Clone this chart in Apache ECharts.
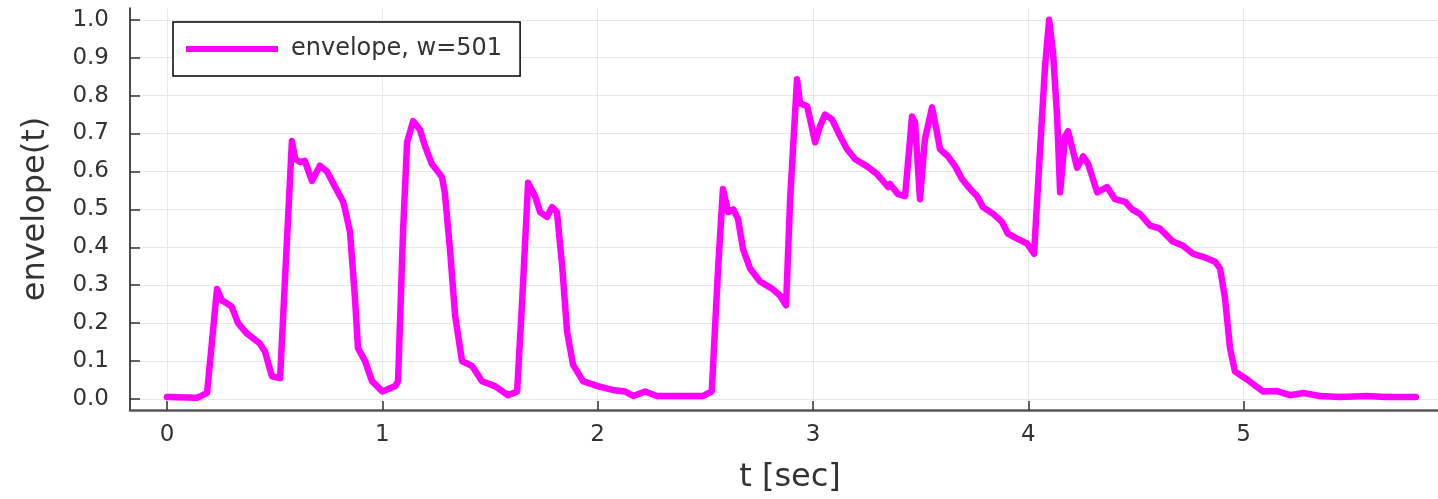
<!DOCTYPE html>
<html>
<head>
<meta charset="utf-8">
<title>envelope</title>
<script src="https://cdn.jsdelivr.net/npm/echarts@6/dist/echarts.min.js"></script>
<style>
  html, body { margin: 0; padding: 0; background: #ffffff; }
  #chart { width: 1438px; height: 499px; }
</style>
</head>
<body>
<div id="chart"></div>
<script>
// Time stamps (seconds) of the smoothed envelope
const tSec = [
  0.00, 0.14, 0.186, 0.232, 0.255, 0.279, 0.30, 0.33, 0.37, 0.43, 0.455, 0.487, 0.525,
  0.58, 0.595, 0.618, 0.64, 0.673, 0.71, 0.743, 0.78, 0.818, 0.827, 0.85, 0.873, 0.887,
  0.92, 0.952, 1.00, 1.06, 1.073, 1.096, 1.115, 1.143, 1.175, 1.198, 1.23, 1.277, 1.29,
  1.314, 1.338, 1.37, 1.417, 1.463, 1.523, 1.584, 1.626, 1.65, 1.677, 1.686, 1.709, 1.733,
  1.765, 1.788, 1.811, 1.835, 1.858, 1.886, 1.932, 2.00, 2.07, 2.127, 2.165, 2.22, 2.276,
  2.383, 2.49, 2.53, 2.56, 2.582, 2.606, 2.63, 2.652, 2.675, 2.708, 2.754, 2.81, 2.847,
  2.875, 2.894, 2.926, 2.94, 2.973, 2.987, 3.01, 3.033, 3.056, 3.089, 3.126, 3.158, 3.196,
  3.25, 3.298, 3.349, 3.358, 3.395, 3.428, 3.46, 3.474, 3.497, 3.52, 3.553, 3.576, 3.59,
  3.627, 3.66, 3.692, 3.73, 3.762, 3.79, 3.837, 3.878, 3.906, 3.948, 3.994, 4.027, 4.055,
  4.078, 4.097, 4.115, 4.134, 4.148, 4.171, 4.185, 4.227, 4.255, 4.278, 4.32, 4.366, 4.403,
  4.45, 4.482, 4.519, 4.566, 4.612, 4.672, 4.719, 4.765, 4.812, 4.868, 4.891, 4.914, 4.937,
  4.96, 4.993, 5.02, 5.05, 5.09, 5.155, 5.216, 5.277, 5.355, 5.448, 5.57, 5.66, 5.80
];

// Envelope amplitude at each time stamp
const envelope = [
  0.005, 0.003, 0.016, 0.29, 0.26, 0.252, 0.244, 0.20, 0.173, 0.147, 0.125, 0.06, 0.055,
  0.68, 0.633, 0.625, 0.628, 0.575, 0.615, 0.60, 0.56, 0.52, 0.50, 0.44, 0.265, 0.134,
  0.10, 0.047, 0.02, 0.034, 0.047, 0.44, 0.677, 0.733, 0.71, 0.667, 0.62, 0.585, 0.545,
  0.396, 0.22, 0.10, 0.087, 0.047, 0.034, 0.01, 0.02, 0.265, 0.57, 0.575, 0.535, 0.493,
  0.48, 0.506, 0.493, 0.352, 0.178, 0.09, 0.047, 0.034, 0.024, 0.02, 0.008, 0.02, 0.008,
  0.008, 0.008, 0.02, 0.35, 0.554, 0.493, 0.50, 0.475, 0.396, 0.344, 0.31, 0.291, 0.273,
  0.247, 0.527, 0.843, 0.78, 0.772, 0.737, 0.677, 0.72, 0.75, 0.737, 0.693, 0.659, 0.632,
  0.614, 0.593, 0.559, 0.567, 0.54, 0.535, 0.745, 0.73, 0.527, 0.685, 0.769, 0.703, 0.659,
  0.64, 0.614, 0.58, 0.554, 0.535, 0.506, 0.488, 0.467, 0.436, 0.423, 0.41, 0.383, 0.659,
  0.877, 1.00, 0.913, 0.745, 0.545, 0.693, 0.706, 0.61, 0.64, 0.62, 0.545, 0.559, 0.527,
  0.52, 0.50, 0.488, 0.457, 0.449, 0.415, 0.404, 0.383, 0.375, 0.362, 0.344, 0.265, 0.134,
  0.073, 0.06, 0.05, 0.037, 0.02, 0.021, 0.01, 0.016, 0.008, 0.005, 0.008, 0.005, 0.005
];

// Tick positions and their printed labels
const xTicks = [0, 1, 2, 3, 4, 5];
const xTickLabels = ['0', '1', '2', '3', '4', '5'];
const yTicks = [0.0, 0.1, 0.2, 0.3, 0.4, 0.5, 0.6, 0.7, 0.8, 0.9, 1.0];
const yTickLabels = ['0.0', '0.1', '0.2', '0.3', '0.4', '0.5', '0.6', '0.7', '0.8', '0.9', '1.0'];

const seriesName = 'envelope, w=501';
const FONT = 'DejaVu Sans';

const points = tSec.map((t, i) => [t, envelope[i]]);

const chart = echarts.init(document.getElementById('chart'), null, { renderer: 'canvas' });

chart.setOption({
  animation: false,
  backgroundColor: '#ffffff',
  grid: { left: 130, right: 0, top: 8, bottom: 87, containLabel: false },
  legend: {
    left: 173,
    top: 22,
    orient: 'horizontal',
    padding: [15, 18, 15, 13],
    borderColor: '#000000',
    borderWidth: 1.5,
    backgroundColor: '#ffffff',
    icon: 'rect',
    itemWidth: 92,
    itemHeight: 6,
    textStyle: { fontFamily: FONT, fontSize: 24, color: '#333333', padding: [0, 0, 0, 8] },
    data: [{ name: seriesName, itemStyle: { color: '#ff00ff' } }]
  },
  xAxis: {
    type: 'value',
    min: -0.172,
    max: 5.903,
    name: 't [sec]',
    nameLocation: 'middle',
    nameGap: 52,
    nameTextStyle: { fontFamily: FONT, fontSize: 32, color: '#333333', padding: [0, 0, 0, 12] },
    axisLine: { show: true, onZero: false, lineStyle: { color: '#555555', width: 2.5 } },
    axisTick: { show: true, inside: true, length: 9, customValues: xTicks, lineStyle: { color: '#333333', width: 1.5 } },
    axisLabel: {
      customValues: xTicks,
      margin: 14,
      fontFamily: FONT, fontSize: 23, color: '#333333',
      formatter: v => xTickLabels[xTicks.indexOf(v)] ?? ''
    },
    splitLine: { show: true, lineStyle: { color: '#e8e8e8', width: 1 } }
  },
  yAxis: {
    type: 'value',
    min: -0.029,
    max: 1.031,
    name: 'envelope(t)',
    nameLocation: 'middle',
    nameGap: 78,
    nameTextStyle: { fontFamily: FONT, fontSize: 32, color: '#333333' },
    axisLine: { show: true, onZero: false, lineStyle: { color: '#111111', width: 1.5 } },
    axisTick: { show: true, inside: true, length: 10, customValues: yTicks, lineStyle: { color: '#333333', width: 1.5 } },
    axisLabel: {
      customValues: yTicks,
      margin: 21,
      fontFamily: FONT, fontSize: 23, color: '#333333',
      formatter: v => {
        const i = yTicks.findIndex(y => Math.abs(y - v) < 1e-9);
        return i >= 0 ? yTickLabels[i] : '';
      }
    },
    splitLine: { show: true, lineStyle: { color: '#e8e8e8', width: 1 } }
  },
  series: [{
    name: seriesName,
    type: 'line',
    data: points,
    showSymbol: false,
    symbol: 'none',
    smooth: false,
    lineStyle: { color: '#ff00ff', width: 6.5, join: 'round', cap: 'round' },
    itemStyle: { color: '#ff00ff' }
  }]
});
</script>
</body>
</html>
